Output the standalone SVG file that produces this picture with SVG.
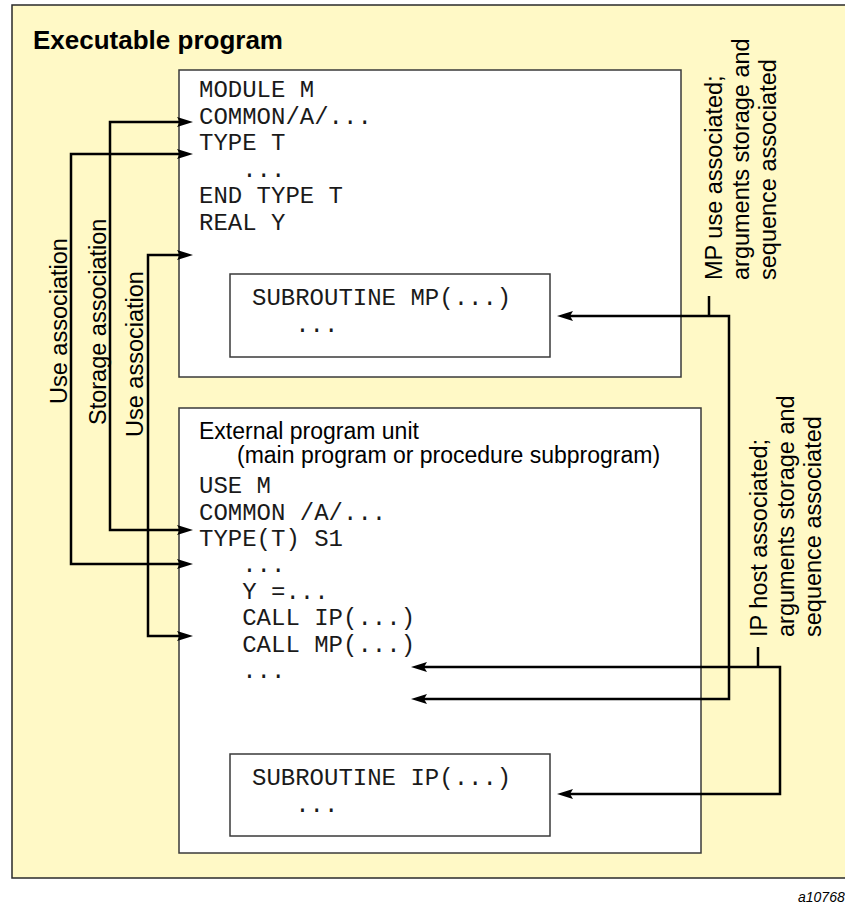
<svg xmlns="http://www.w3.org/2000/svg" width="845" height="905" viewBox="0 0 845 905">
<defs>
<style>
.box{fill:#ffffff;stroke:#3a3a3a;stroke-width:1.5}
.outer{fill:#fff9c6;stroke:#2a2a2a;stroke-width:1.5}
.code{font-family:"Liberation Mono","Courier New",monospace;font-size:24px;fill:#1a1a1a}
.sans{font-family:"Liberation Sans",Arial,Helvetica,sans-serif;font-size:23px;fill:#000}
.rot{font-family:"Liberation Sans",Arial,Helvetica,sans-serif;font-size:23.5px;fill:#000}
.title{font-family:"Liberation Sans",Arial,Helvetica,sans-serif;font-size:26px;font-weight:bold;fill:#000}
.conn{fill:none;stroke:#000;stroke-width:2.5;marker-start:url(#ah);marker-end:url(#ah)}
.tick{fill:none;stroke:#000;stroke-width:2.5}
</style>
<marker id="ah" markerWidth="16" markerHeight="10" refX="3" refY="5" orient="auto-start-reverse" markerUnits="userSpaceOnUse">
<path d="M0,0 L16,5 L0,10 L3,5 z" fill="#000"/>
</marker>
</defs>

<g id="executable-program">
<rect class="outer" x="12" y="5" width="840" height="873"/>
<text class="title" x="33" y="49">Executable program</text>
</g>

<g id="module-m">
<rect class="box" x="179" y="70" width="502" height="307"/>
<text class="code" x="199" y="97">MODULE M</text>
<text class="code" x="199" y="123.5">COMMON/A/...</text>
<text class="code" x="199" y="150">TYPE T</text>
<text class="code" x="199" y="176.5" xml:space="preserve">   ...</text>
<text class="code" x="199" y="203">END TYPE T</text>
<text class="code" x="199" y="229.5">REAL Y</text>
</g>

<g id="subroutine-mp">
<rect class="box" x="230" y="274" width="320" height="83"/>
<text class="code" x="252" y="305">SUBROUTINE MP(...)</text>
<text class="code" x="252" y="332" xml:space="preserve">   ...</text>
</g>

<g id="external-unit">
<rect class="box" x="179" y="408" width="522" height="445"/>
<text class="sans" x="199" y="439">External program unit</text>
<text class="sans" x="237" y="463">(main program or procedure subprogram)</text>
<text class="code" x="199" y="493">USE M</text>
<text class="code" x="199" y="519.5">COMMON /A/...</text>
<text class="code" x="199" y="546">TYPE(T) S1</text>
<text class="code" x="199" y="572" xml:space="preserve">   ...</text>
<text class="code" x="199" y="598.5" xml:space="preserve">   Y =...</text>
<text class="code" x="199" y="625" xml:space="preserve">   CALL IP(...)</text>
<text class="code" x="199" y="651.5" xml:space="preserve">   CALL MP(...)</text>
<text class="code" x="199" y="678" xml:space="preserve">   ...</text>
</g>

<g id="subroutine-ip">
<rect class="box" x="230" y="754" width="320" height="82"/>
<text class="code" x="252" y="785">SUBROUTINE IP(...)</text>
<text class="code" x="252" y="812" xml:space="preserve">   ...</text>
</g>

<g id="connectors">
<path class="conn" d="M180,154 H71 V564 H180"/>
<path class="conn" d="M180,122 H110 V530 H180"/>
<path class="conn" d="M180,255 H148 V636 H180"/>
<path class="conn" d="M570,316 H729 V699 H424"/>
<path class="tick" d="M709,296 V316"/>
<path class="conn" d="M424,667 H780 V794 H570"/>
<path class="tick" d="M758,647 V667"/>
</g>

<g id="labels">
<text class="rot" transform="translate(67,404) rotate(-90)">Use association</text>
<text class="rot" transform="translate(106,425) rotate(-90)">Storage association</text>
<text class="rot" transform="translate(143,437) rotate(-90)">Use association</text>
<text class="rot" transform="translate(722,280) rotate(-90)"><tspan x="0" y="0">MP use associated;</tspan><tspan x="0" dy="27">arguments storage and</tspan><tspan x="0" dy="27">sequence associated</tspan></text>
<text class="rot" transform="translate(767,637) rotate(-90)"><tspan x="0" y="0">IP host associated;</tspan><tspan x="0" dy="27">arguments storage and</tspan><tspan x="0" dy="27">sequence associated</tspan></text>
</g>

<text x="798" y="902" style="font-family:'Liberation Sans',Arial,sans-serif;font-size:14px;font-style:italic;fill:#000">a10768</text>
</svg>
